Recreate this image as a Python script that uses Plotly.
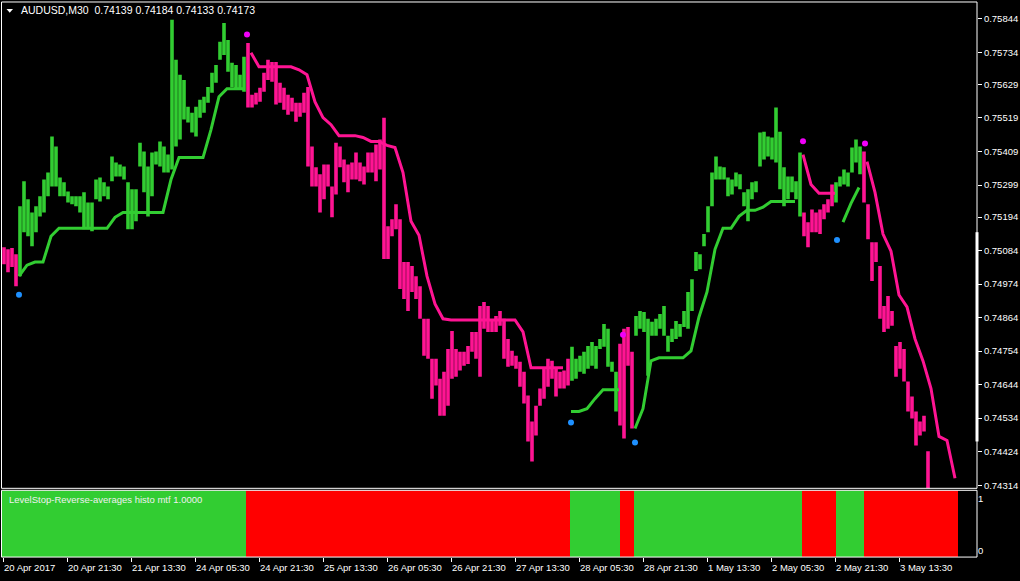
import plotly.graph_objects as go

W, H = 1020, 581

# ---------------- data ----------------
# price high / low, one sample per 2 bars (M30 bars, bar index 2k .. 2k+1)
hi = [0.75095, 0.75088, 0.75092, 0.75072, 0.75229, 0.75311, 0.75252, 0.75209, 0.75229, 0.75262,
      0.75317, 0.75340, 0.75458, 0.75425, 0.75324, 0.75308, 0.75278, 0.75262, 0.75262, 0.75262,
      0.75275, 0.75242, 0.75242, 0.75317, 0.75324, 0.75308, 0.75294, 0.75393, 0.75373, 0.75366,
      0.75360, 0.75308, 0.75285, 0.75285, 0.75438, 0.75409, 0.75360, 0.75406, 0.75409, 0.75442,
      0.75425, 0.75399, 0.75841, 0.75710, 0.75661, 0.75644, 0.75556, 0.75536, 0.75556, 0.75579,
      0.75589, 0.75621, 0.75667, 0.75693, 0.75769, 0.75831, 0.75775, 0.75700, 0.75693, 0.75661,
      0.75720, 0.75765, 0.75595, 0.75602, 0.75618, 0.75667, 0.75710, 0.75703, 0.75703, 0.75635,
      0.75618, 0.75595, 0.75585, 0.75569, 0.75569, 0.75602, 0.75621, 0.75425, 0.75357, 0.75334,
      0.75366, 0.75366, 0.75294, 0.75438, 0.75425, 0.75383, 0.75366, 0.75373, 0.75406, 0.75373,
      0.75360, 0.75406, 0.75406, 0.75432, 0.75448, 0.75520, 0.75164, 0.75187, 0.75236, 0.75187,
      0.75046, 0.75046, 0.75033, 0.75000, 0.74967, 0.74860, 0.74860, 0.74729, 0.74729, 0.74663,
      0.74686, 0.74761, 0.74820, 0.74761, 0.74752, 0.74752, 0.74771, 0.74817, 0.74817, 0.74902,
      0.74915, 0.74902, 0.74853, 0.74869, 0.74886, 0.74860, 0.74794, 0.74755, 0.74739, 0.74719,
      0.74686, 0.74608, 0.74523, 0.74575, 0.74631, 0.74696, 0.74729, 0.74722, 0.74696, 0.74686,
      0.74690, 0.74729, 0.74768, 0.74729, 0.74739, 0.74752, 0.74771, 0.74784, 0.74771, 0.74794,
      0.74843, 0.74827, 0.74719, 0.74686, 0.74778, 0.74827, 0.74833, 0.74752, 0.74869, 0.74886,
      0.74882, 0.74860, 0.74850, 0.74860, 0.74876, 0.74902, 0.74804, 0.74827, 0.74853, 0.74843,
      0.74886, 0.74948, 0.74990, 0.75079, 0.75072, 0.75138, 0.75229, 0.75340, 0.75393, 0.75360,
      0.75357, 0.75324, 0.75317, 0.75340, 0.75334, 0.75275, 0.75285, 0.75308, 0.75311, 0.75471,
      0.75474, 0.75458, 0.75455, 0.75553, 0.75474, 0.75357, 0.75327, 0.75327, 0.75311, 0.75406,
      0.75209, 0.75177, 0.75219, 0.75209, 0.75219, 0.75236, 0.75252, 0.75301, 0.75308, 0.75327,
      0.75350, 0.75340, 0.75422, 0.75448, 0.75425, 0.75409, 0.75236, 0.75111, 0.75111, 0.75033,
      0.74902, 0.74935, 0.74886, 0.74771, 0.74784, 0.74761, 0.74654, 0.74605, 0.74556, 0.74523,
      0.74542, 0.74425, 0.74294, 0.74271, 0.74255, 0.74238, 0.74222, 0.74206, 0.74184]

lo = [0.75039, 0.75013, 0.75030, 0.74967, 0.75000, 0.75144, 0.75131, 0.75098, 0.75144, 0.75196,
      0.75209, 0.75262, 0.75294, 0.75294, 0.75262, 0.75262, 0.75242, 0.75236, 0.75229, 0.75209,
      0.75154, 0.75154, 0.75147, 0.75252, 0.75245, 0.75262, 0.75252, 0.75311, 0.75327, 0.75327,
      0.75317, 0.75154, 0.75154, 0.75180, 0.75360, 0.75275, 0.75196, 0.75262, 0.75366, 0.75360,
      0.75340, 0.75340, 0.75350, 0.75425, 0.75448, 0.75514, 0.75504, 0.75471, 0.75458, 0.75520,
      0.75536, 0.75569, 0.75602, 0.75635, 0.75710, 0.75726, 0.75671, 0.75621, 0.75612, 0.75612,
      0.75605, 0.75553, 0.75553, 0.75563, 0.75572, 0.75605, 0.75644, 0.75638, 0.75563, 0.75569,
      0.75546, 0.75530, 0.75540, 0.75507, 0.75523, 0.75536, 0.75360, 0.75294, 0.75294, 0.75209,
      0.75252, 0.75294, 0.75193, 0.75268, 0.75357, 0.75308, 0.75275, 0.75317, 0.75317, 0.75311,
      0.75301, 0.75340, 0.75340, 0.75311, 0.75350, 0.75056, 0.75056, 0.75131, 0.75154, 0.74958,
      0.74925, 0.74886, 0.74948, 0.74925, 0.74860, 0.74739, 0.74729, 0.74598, 0.74641, 0.74542,
      0.74542, 0.74575, 0.74663, 0.74670, 0.74690, 0.74706, 0.74712, 0.74752, 0.74729, 0.74670,
      0.74827, 0.74817, 0.74817, 0.74817, 0.74837, 0.74729, 0.74703, 0.74706, 0.74696, 0.74637,
      0.74582, 0.74457, 0.74392, 0.74477, 0.74575, 0.74598, 0.74637, 0.74663, 0.74605, 0.74631,
      0.74631, 0.74641, 0.74657, 0.74663, 0.74686, 0.74680, 0.74696, 0.74706, 0.74696, 0.74761,
      0.74768, 0.74703, 0.74686, 0.74556, 0.74510, 0.74467, 0.74706, 0.74500, 0.74804, 0.74827,
      0.74817, 0.74673, 0.74804, 0.74804, 0.74827, 0.74804, 0.74752, 0.74784, 0.74794, 0.74801,
      0.74833, 0.74827, 0.74886, 0.75017, 0.75023, 0.75098, 0.75144, 0.75229, 0.75317, 0.75317,
      0.75317, 0.75262, 0.75268, 0.75294, 0.75285, 0.75229, 0.75180, 0.75252, 0.75275, 0.75360,
      0.75383, 0.75393, 0.75383, 0.75373, 0.75285, 0.75229, 0.75252, 0.75275, 0.75252, 0.75196,
      0.75131, 0.75095, 0.75144, 0.75144, 0.75138, 0.75187, 0.75209, 0.75229, 0.75242, 0.75294,
      0.75301, 0.75294, 0.75340, 0.75373, 0.75334, 0.75242, 0.75121, 0.74984, 0.75046, 0.74860,
      0.74817, 0.74827, 0.74837, 0.74670, 0.74696, 0.74654, 0.74556, 0.74533, 0.74444, 0.74477,
      0.74490, 0.74271, 0.74238, 0.74206, 0.74189, 0.74179, 0.74157, 0.74140, 0.74134]

# LevelStop line, one sample every 4 bars (bar index 4j)
level = [None, None, 0.75000, 0.75036, 0.75046, 0.75046, 0.75131, 0.75157, 0.75157, 0.75157,
         0.75157, 0.75157, 0.75157, 0.75157, 0.75193, 0.75209, 0.75209, 0.75209, 0.75209, 0.75209,
         0.75209, 0.75317, 0.75389, 0.75389, 0.75389, 0.75389, 0.75481, 0.75589, 0.75615, 0.75615,
         0.75615, 0.75733, 0.75687, 0.75687, 0.75687, 0.75687, 0.75687, 0.75677, 0.75661, 0.75572,
         0.75520, 0.75497, 0.75461, 0.75461, 0.75461, 0.75455, 0.75442, 0.75442, 0.75429, 0.75422,
         0.75340, 0.75180, 0.75134, 0.75000, 0.74909, 0.74860, 0.74856, 0.74856, 0.74856, 0.74856,
         0.74856, 0.74856, 0.74856, 0.74856, 0.74856, 0.74817, 0.74699, 0.74699, 0.74699, 0.74699,
         0.74699, 0.74556, 0.74556, 0.74565, 0.74598, 0.74627, 0.74627, 0.74627, 0.74778, 0.74500,
         0.74565, 0.74722, 0.74732, 0.74732, 0.74732, 0.74732, 0.74755, 0.74866, 0.74948, 0.75088,
         0.75157, 0.75157, 0.75196, 0.75216, 0.75216, 0.75226, 0.75245, 0.75245, 0.75245, 0.75245,
         0.75399, 0.75301, 0.75272, 0.75272, 0.75272, 0.75177, 0.75239, 0.75291, 0.75376, 0.75275,
         0.75138, 0.75082, 0.74938, 0.74899, 0.74794, 0.74722, 0.74631, 0.74474, 0.74461, 0.74337]

# trend segments (last bar index of each segment, direction)
seg_end = [121, 283, 308, 315, 399, 416, 430, 477]
seg_dir = [1, -1, 1, -1, 1, -1, 1, -1]
candle_seg_end = [7] + seg_end
candle_seg_dir = [-1] + seg_dir

# reversal signals
up_bar = [8, 284, 316, 417]
up_price = [0.74939, 0.74520, 0.74454, 0.75119]
dn_bar = [122, 310, 400, 431]
dn_price = [0.75793, 0.74808, 0.75443, 0.75435]

price_ticks = ["0.75844", "0.75734", "0.75629", "0.75519", "0.75409", "0.75299", "0.75194",
               "0.75084", "0.74974", "0.74864", "0.74754", "0.74644", "0.74534", "0.74424", "0.74314"]
time_labels = ["20 Apr 2017", "20 Apr 21:30", "21 Apr 13:30", "24 Apr 05:30", "24 Apr 21:30",
               "25 Apr 13:30", "26 Apr 05:30", "26 Apr 21:30", "27 Apr 13:30", "28 Apr 05:30",
               "28 Apr 21:30", "1 May 13:30", "2 May 05:30", "2 May 21:30", "3 May 13:30"]
time_label_step = 32  # bars between time labels

header = "AUDUSD,M30  0.74139 0.74184 0.74133 0.74173"
ind_name = "LevelStop-Reverse-averages histo mtf 1.0000"

# ---------------- style ----------------
GREEN = "#32CD32"
PINK = "#FF1493"
RED = "#FF0000"
MAGENTA = "#F000F8"
BLUE = "#1E90FF"
FONT = "Liberation Sans"
FS = 9.5


def trend_at(bar, ends, dirs):
    for e, d in zip(ends, dirs):
        if bar <= e:
            return d
    return dirs[-1]


n_bars = seg_end[-1] + 1

fig = go.Figure()

# histogram (sub window)
hist_x = list(range(n_bars))
hist_c = [GREEN if trend_at(b, seg_end, seg_dir) > 0 else RED for b in hist_x]
fig.add_trace(go.Bar(x=hist_x, y=[1] * n_bars, width=1.0, marker=dict(color=hist_c, line=dict(width=0)),
                     xaxis="x2", yaxis="y2", hoverinfo="skip"))

# price bars
px_x = [2 * k + 0.5 for k in range(len(hi))]
bar_c = [GREEN if trend_at(2 * k + 1, candle_seg_end, candle_seg_dir) > 0 else PINK for k in range(len(hi))]
fig.add_trace(go.Bar(x=px_x, base=lo, y=[h - l for h, l in zip(hi, lo)], width=1.8,
                     marker=dict(color=bar_c, line=dict(width=0)), xaxis="x", yaxis="y", hoverinfo="skip"))

# level line, one trace per trend segment
lvl_x = [4 * j for j in range(len(level))]
start = 0
for e, d in zip(seg_end, seg_dir):
    xs, ys = [], []
    for xv, yv in zip(lvl_x, level):
        if start <= xv <= e and yv is not None:
            xs.append(xv)
            ys.append(yv)
    if len(xs) > 1:
        fig.add_trace(go.Scatter(x=xs, y=ys, mode="lines", line=dict(color=GREEN if d > 0 else PINK, width=3),
                                 xaxis="x", yaxis="y", hoverinfo="skip"))
    start = e + 1

# signal dots
fig.add_trace(go.Scatter(x=up_bar, y=up_price, mode="markers", marker=dict(color=BLUE, size=6),
                         xaxis="x", yaxis="y", hoverinfo="skip"))
fig.add_trace(go.Scatter(x=dn_bar, y=dn_price, mode="markers", marker=dict(color=MAGENTA, size=6),
                         xaxis="x", yaxis="y", hoverinfo="skip"))

# ---------------- layout ----------------
xr = [-0.5, 487]
xdom = [2 / W, 977 / W]
fig.update_layout(
    width=W, height=H, margin=dict(l=0, r=0, t=0, b=0),
    paper_bgcolor="black", plot_bgcolor="black", showlegend=False,
    font=dict(family=FONT, size=FS, color="white"),
    xaxis=dict(domain=xdom, range=xr, anchor="y", showticklabels=False, showgrid=False, zeroline=False,
               fixedrange=True),
    yaxis=dict(domain=[1 - 490 / H, 1 - 2 / H], range=[0.743038, 0.758996], anchor="x", side="right",
               tickvals=[float(t) for t in price_ticks], ticktext=price_ticks, ticks="outside", ticklen=4,
               tickcolor="white", tickfont=dict(family=FONT, size=FS, color="white"),
               showgrid=False, zeroline=False, showline=False),
    xaxis2=dict(domain=xdom, range=xr, anchor="y2", showticklabels=False, showgrid=False, zeroline=False,
                tickvals=[i * time_label_step for i in range(len(time_labels))], ticks="outside", ticklen=4,
                tickcolor="white"),
    yaxis2=dict(domain=[1 - 559 / H, 1 - 492 / H], range=[0, 1], anchor="x2", side="right",
                tickvals=[0.88, 0.09], ticktext=["1", "0"], ticks="",
                tickfont=dict(family=FONT, size=FS, color="white"), showgrid=False, zeroline=False),
)

# frames
shapes = []
for y0, y1 in [(2, 490), (492, 559)]:
    shapes.append(dict(type="rect", xref="paper", yref="paper", x0=1.5 / W, x1=977 / W,
                       y0=1 - y1 / H, y1=1 - y0 / H, line=dict(color="white", width=1)))
shapes.append(dict(type="line", xref="paper", yref="paper", x0=977 / W, x1=977 / W,
                   y0=1 - 443 / H, y1=1 - 233 / H, line=dict(color="white", width=3)))
shapes.append(dict(type="path", xref="paper", yref="paper",
                   path=f"M {6.5 / W},{1 - 9 / H} L {13 / W},{1 - 9 / H} L {9.75 / W},{1 - 12.8 / H} Z",
                   fillcolor="white", line=dict(width=0)))
fig.update_layout(shapes=shapes)

ann = [dict(text=header, xref="paper", yref="paper", x=19 / W, y=1 - 10.5 / H, xanchor="left",
            yanchor="middle", showarrow=False, font=dict(family=FONT, size=FS + 1, color="white")),
       dict(text=ind_name, xref="paper", yref="paper", x=7 / W, y=1 - 501.5 / H, xanchor="left",
            yanchor="middle", showarrow=False, font=dict(family=FONT, size=FS, color="#F0F0F0"))]
for i, t in enumerate(time_labels):
    ann.append(dict(text=t, xref="x2", yref="paper", x=i * time_label_step, y=1 - 569.5 / H,
                    xanchor="left", yanchor="middle", xshift=-1, showarrow=False,
                    font=dict(family=FONT, size=FS, color="white")))
fig.update_layout(annotations=ann)

fig.write_html("out.html", config={"displayModeBar": False, "staticPlot": True},
               post_script="document.body.style.margin='0px';document.body.style.background='black';")
